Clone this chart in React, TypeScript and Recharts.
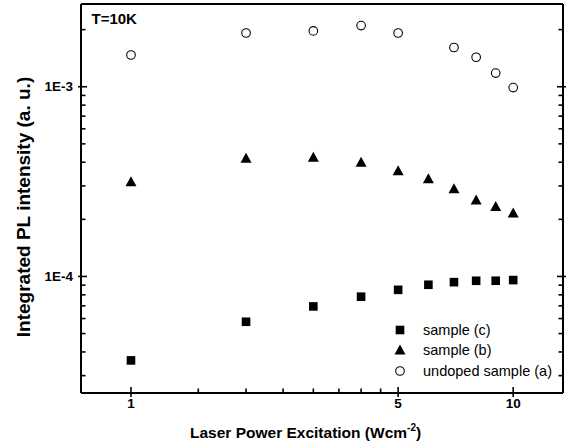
import { ScatterChart, Scatter, XAxis, YAxis } from "recharts";

// laser power (W/cm^2)
const powers = [1, 2, 3, 4, 5, 6, 7, 8, 9, 10];
const undopedPowers = [1, 2, 3, 4, 5, 7, 8, 9, 10];

// integrated PL intensity (a. u.)
const sampleC = [3.61e-5, 5.77e-5, 6.95e-5, 7.82e-5, 8.5e-5, 9.04e-5, 9.33e-5, 9.49e-5, 9.49e-5, 9.57e-5];
const sampleB = [3.16e-4, 4.2e-4, 4.25e-4, 4.0e-4, 3.61e-4, 3.27e-4, 2.9e-4, 2.53e-4, 2.34e-4, 2.16e-4];
const undopedA = [1.47e-3, 1.92e-3, 1.97e-3, 2.1e-3, 1.92e-3, 1.61e-3, 1.43e-3, 1.18e-3, 0.99e-3];

const xMajor = [1, 5, 10];
const xTicks = [1, 1.5, 2, 2.5, 3, 3.5, 4, 4.5, 5, 10];
const yMajor = [1e-4, 1e-3];
const yMajorLabels = ["1E-4", "1E-3"];
const yTicks = [
  3e-5, 4e-5, 5e-5, 6e-5, 7e-5, 8e-5, 9e-5, 1e-4,
  2e-4, 3e-4, 4e-4, 5e-4, 6e-4, 7e-4, 8e-4, 9e-4, 1e-3, 2e-3,
];

const xDomain = [0.74, 13.5];
const yDomain = [2.43e-5, 2.73e-3];

const FONT = "'Liberation Sans', Arial, Helvetica, sans-serif";

const toPoints = (xs: number[], ys: number[]) => xs.map((x, i) => ({ x, y: ys[i] }));

const Square = (p: any) => <rect x={p.cx - 4.3} y={p.cy - 4.3} width={8.6} height={8.6} fill="#000" />;
const Triangle = (p: any) => (
  <polygon points={`${p.cx},${p.cy - 5.5} ${p.cx + 5.5},${p.cy + 4.5} ${p.cx - 5.5},${p.cy + 4.5}`} fill="#000" />
);
const Circle = (p: any) => <circle cx={p.cx} cy={p.cy} r={4.3} fill="#fff" stroke="#000" strokeWidth={1.1} />;

const series = [
  { name: "sample (c)", data: toPoints(powers, sampleC), shape: Square },
  { name: "sample (b)", data: toPoints(powers, sampleB), shape: Triangle },
  { name: "undoped sample (a)", data: toPoints(undopedPowers, undopedA), shape: Circle },
];

const isMajor = (list: number[], v: number) => list.some((m) => Math.abs(m - v) / m < 1e-6);

function XTick(props: any) {
  const { x, y, payload, side } = props;
  const v = payload.value;
  const major = isMajor(xMajor, v);
  const inward = side === "bottom" ? -1 : 1;
  const len = major ? 6 : 4.5;
  return (
    <g>
      <line x1={x} x2={x} y1={y - inward * (major ? 4 : 0)} y2={y + inward * len} stroke="#000" strokeWidth={1.6} />
      {side === "bottom" && major && (
        <text x={x} y={y + 15} textAnchor="middle" fontSize={13.5} fontWeight="bold" fontFamily={FONT} fill="#000">
          {v}
        </text>
      )}
    </g>
  );
}

function YTick(props: any) {
  const { x, y, payload, side } = props;
  const v = payload.value;
  const idx = yMajor.findIndex((m) => Math.abs(m - v) / m < 1e-6);
  const major = idx >= 0;
  const inward = side === "left" ? 1 : -1;
  const len = major ? 6 : 4.5;
  return (
    <g>
      <line x1={x - inward * (major ? 3 : 0)} x2={x + inward * len} y1={y} y2={y} stroke="#000" strokeWidth={1.6} />
      {side === "left" && major && (
        <text x={x - 8} y={y + 4.5} textAnchor="end" fontSize={13.5} fontWeight="bold" fontFamily={FONT} fill="#000">
          {yMajorLabels[idx]}
        </text>
      )}
    </g>
  );
}

const XTitle = () => (
  <text x={190} y={437.5} fontSize={15.5} fontWeight="bold" fontFamily={FONT} fill="#000">
    Laser Power Excitation (Wcm
    <tspan dy={-7} fontSize={10}>-2</tspan>
    <tspan dy={7}>)</tspan>
  </text>
);

const YTitle = () => (
  <text
    x={30}
    y={207}
    transform="rotate(-90, 30, 207)"
    textAnchor="middle"
    fontSize={19}
    fontWeight="bold"
    fontFamily={FONT}
    fill="#000"
  >
    Integrated PL intensity (a. u.)
  </text>
);

const TempLabel = () => (
  <text x={91.5} y={24} fontSize={15} fontWeight="bold" fontFamily={FONT} fill="#000">
    T=10K
  </text>
);

function LegendBox() {
  return (
    <div
      style={{
        position: "absolute",
        left: 392,
        top: 319.5,
        fontFamily: FONT,
        fontSize: 14.5,
        color: "#000",
        pointerEvents: "none",
      }}
    >
      {series.map((s) => {
        const Shape = s.shape;
        return (
          <div key={s.name} style={{ display: "flex", alignItems: "center", height: 20.5 }}>
            <svg width={22} height={20} style={{ flex: "none" }}>
              <Shape cx={8} cy={10} />
            </svg>
            <span style={{ marginLeft: 9, whiteSpace: "nowrap" }}>{s.name}</span>
          </div>
        );
      })}
    </div>
  );
}

export default function App() {
  const axisLine = { stroke: "#000", strokeWidth: 2 };
  return (
    <div style={{ position: "absolute", left: 0, top: 0, width: 566, height: 446, background: "#fff" }}>
      <ScatterChart width={566} height={446} margin={{ top: 3, right: 2, bottom: 0, left: 0 }}>
        <XAxis
          xAxisId="b"
          dataKey="x"
          type="number"
          scale="log"
          domain={xDomain}
          allowDataOverflow
          ticks={xTicks}
          interval={0}
          height={53}
          tickSize={0}
          tickMargin={0}
          tickLine={false}
          axisLine={axisLine}
          tick={<XTick side="bottom" />}
          label={{ content: XTitle }}
        />
        <XAxis
          xAxisId="t"
          orientation="top"
          type="number"
          scale="log"
          domain={xDomain}
          allowDataOverflow
          ticks={xTicks}
          interval={0}
          height={1}
          tickSize={0}
          tickMargin={0}
          tickLine={false}
          axisLine={axisLine}
          tick={<XTick side="top" />}
          label={{ content: TempLabel }}
        />
        <YAxis
          yAxisId="l"
          dataKey="y"
          type="number"
          scale="log"
          domain={yDomain}
          allowDataOverflow
          ticks={yTicks}
          interval={0}
          width={81}
          tickSize={0}
          tickMargin={0}
          tickLine={false}
          axisLine={axisLine}
          tick={<YTick side="left" />}
          label={{ content: YTitle }}
        />
        <YAxis
          yAxisId="r"
          orientation="right"
          type="number"
          scale="log"
          domain={yDomain}
          allowDataOverflow
          ticks={yTicks}
          interval={0}
          width={1}
          tickSize={0}
          tickMargin={0}
          tickLine={false}
          axisLine={axisLine}
          tick={<YTick side="right" />}
        />
        {series.map((s) => (
          <Scatter
            key={s.name}
            name={s.name}
            data={s.data}
            xAxisId="b"
            yAxisId="l"
            shape={s.shape}
            isAnimationActive={false}
          />
        ))}
      </ScatterChart>
      <LegendBox />
    </div>
  );
}
